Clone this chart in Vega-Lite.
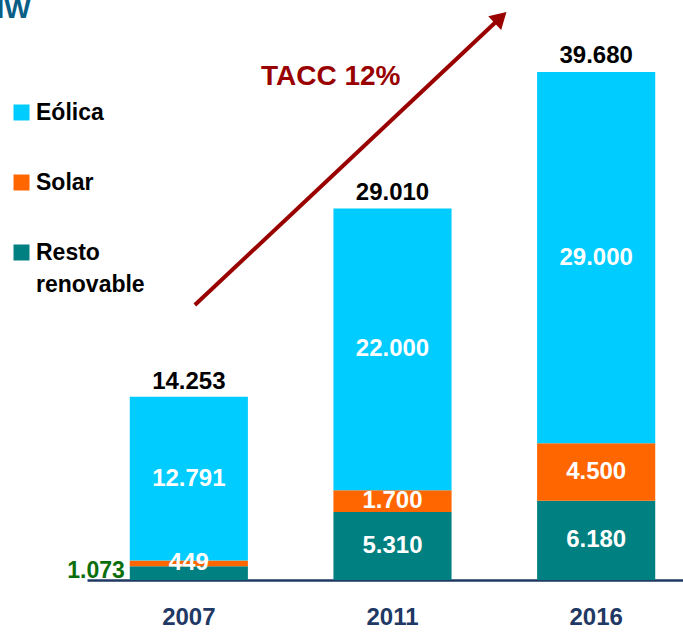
{
  "$schema": "https://vega.github.io/schema/vega-lite/v6.json",
  "width": 683,
  "height": 580,
  "autosize": {"type": "none"},
  "padding": {"left": 0, "top": 0, "right": 0, "bottom": 52},
  "background": "white",
  "config": {
    "view": {"stroke": null},
    "font": "Liberation Sans",
    "locale": {"number": {"decimal": ",", "thousands": ".", "grouping": [3], "currency": ["", " €"]}}
  },
  "datasets": {
    "bars": [
      {"year": "2007", "type": "Resto renovable", "value": 1073, "stackOrder": 1},
      {"year": "2007", "type": "Solar", "value": 449, "stackOrder": 2},
      {"year": "2007", "type": "Eólica", "value": 12791, "stackOrder": 3},
      {"year": "2011", "type": "Resto renovable", "value": 5310, "stackOrder": 1},
      {"year": "2011", "type": "Solar", "value": 1700, "stackOrder": 2},
      {"year": "2011", "type": "Eólica", "value": 22000, "stackOrder": 3},
      {"year": "2016", "type": "Resto renovable", "value": 6180, "stackOrder": 1},
      {"year": "2016", "type": "Solar", "value": 4500, "stackOrder": 2},
      {"year": "2016", "type": "Eólica", "value": 29000, "stackOrder": 3}
    ],
    "totals": [
      {"year": "2007", "total": 14253},
      {"year": "2011", "total": 29010},
      {"year": "2016", "total": 39680}
    ]
  },
  "layer": [
    {
      "data": {"name": "bars"},
      "mark": {"type": "bar"},
      "encoding": {
        "x": {
          "field": "year",
          "type": "nominal",
          "title": null,
          "scale": {"range": [87, 698], "paddingInner": 0.42, "paddingOuter": 0.21},
          "axis": {
            "labelFontSize": 24,
            "labelFontWeight": "bold",
            "labelColor": "#1F3864",
            "labelFont": "Liberation Sans",
            "labelAngle": 0,
            "labelPadding": 25,
            "domainColor": "#1F3864",
            "domainWidth": 2.5,
            "ticks": false,
            "grid": false
          }
        },
        "y": {
          "field": "value",
          "type": "quantitative",
          "stack": "zero",
          "scale": {"domain": [0, 45300], "nice": false, "zero": true},
          "axis": null
        },
        "color": {
          "field": "type",
          "type": "nominal",
          "scale": {"domain": ["Eólica", "Solar", "Resto renovable"], "range": ["#00CCFF", "#FF6600", "#008080"]},
          "legend": {
            "orient": "none",
            "legendX": 10,
            "legendY": 101,
            "title": null,
            "symbolType": "square",
            "symbolSize": 256,
            "symbolStrokeWidth": 0,
            "symbolOpacity": 1,
            "labelFontSize": 23,
            "labelFontWeight": "bold",
            "labelFont": "Liberation Sans",
            "labelColor": "black",
            "labelOffset": 3,
            "labelLimit": 300,
            "rowPadding": 46,
            "labelExpr": "datum.label == 'Resto renovable' ? ['Resto', 'renovable'] : datum.label",
            "encode": {"labels": {"update": {"lineHeight": {"value": 32}}}}
          }
        },
        "order": {"field": "stackOrder", "type": "quantitative"}
      }
    },
    {
      "data": {"name": "bars"},
      "mark": {"type": "text", "color": "white", "fontSize": 24, "fontWeight": "bold", "font": "Liberation Sans", "baseline": "middle"},
      "encoding": {
        "x": {"field": "year", "type": "nominal"},
        "y": {"field": "value", "type": "quantitative", "stack": "zero", "bandPosition": 0.5},
        "detail": {"field": "type", "type": "nominal"},
        "order": {"field": "stackOrder", "type": "quantitative"},
        "text": {"field": "value", "type": "quantitative", "format": ",.0f"},
        "opacity": {"condition": {"test": "datum.year == '2007' && datum.type == 'Resto renovable'", "value": 0}, "value": 1}
      }
    },
    {
      "data": {"name": "bars"},
      "transform": [{"filter": "datum.year == '2007' && datum.type == 'Resto renovable'"}],
      "mark": {"type": "text", "color": "#0A6E0A", "fontSize": 23, "fontWeight": "bold", "font": "Liberation Sans", "baseline": "middle", "align": "right", "dx": -5, "dy": -2},
      "encoding": {
        "x": {"field": "year", "type": "nominal", "bandPosition": 0},
        "y": {"field": "value", "type": "quantitative", "stack": "zero", "bandPosition": 0.5},
        "text": {"field": "value", "type": "quantitative", "format": ",.0f"}
      }
    },
    {
      "data": {"name": "totals"},
      "mark": {"type": "text", "color": "black", "fontSize": 24, "fontWeight": "bold", "font": "Liberation Sans", "baseline": "alphabetic", "dy": -9},
      "encoding": {
        "x": {"field": "year", "type": "nominal"},
        "y": {"field": "total", "type": "quantitative"},
        "text": {"field": "total", "type": "quantitative", "format": ",.0f"}
      }
    },
    {
      "data": {"values": [{}]},
      "mark": {"type": "rule", "stroke": "#990000", "strokeWidth": 4},
      "encoding": {
        "x": {"datum": "2007", "bandPosition": 0.551},
        "x2": {"datum": "2011", "bandPosition": 1.415},
        "y": {"datum": 21478},
        "y2": {"datum": 43932}
      }
    },
    {
      "data": {"values": [{}]},
      "mark": {"type": "point", "shape": "triangle-up", "filled": true, "fill": "#990000", "size": 350, "angle": 46.6, "opacity": 1, "strokeWidth": 0},
      "encoding": {
        "x": {"datum": "2011", "bandPosition": 1.415},
        "y": {"datum": 43932}
      }
    },
    {
      "data": {"values": [{}]},
      "mark": {"type": "text", "text": "TACC 12%", "fontSize": 28, "fontWeight": "bold", "font": "Liberation Sans", "color": "#990000", "align": "right", "baseline": "middle", "dx": 8},
      "encoding": {
        "x": {"datum": "2011", "bandPosition": 0.5},
        "y": {"datum": 39284}
      }
    },
    {
      "data": {"values": [{}]},
      "mark": {"type": "text", "text": "MW", "fontSize": 28, "fontWeight": "bold", "font": "Liberation Sans", "color": "#0B5F86", "align": "left", "baseline": "alphabetic"},
      "encoding": {
        "x": {"datum": "2007", "bandPosition": -1.26},
        "y": {"datum": 43893}
      }
    }
  ]
}
